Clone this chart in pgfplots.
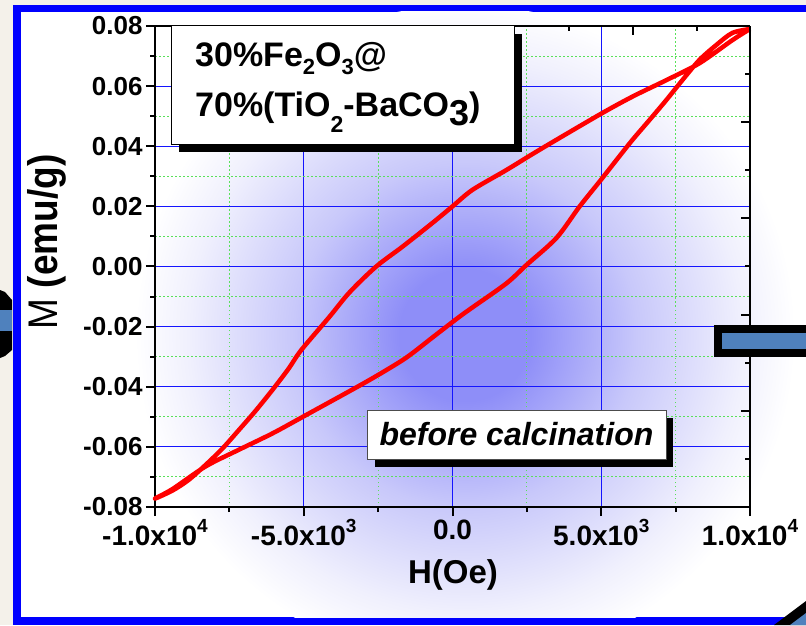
\documentclass[border=0pt]{standalone}
\usepackage{pgfplots}
\pgfplotsset{compat=1.18}
\usepackage{fontspec}
\setmainfont{Liberation Sans}
\definecolor{beige}{RGB}{244,241,234}
\definecolor{bgc}{RGB}{142,142,248}
\definecolor{bgm}{RGB}{200,200,250}
\definecolor{bgl}{RGB}{240,240,253}
\definecolor{gridblue}{RGB}{20,20,255}
\definecolor{gridgreen}{RGB}{90,225,90}
\definecolor{arrowblue}{RGB}{79,129,189}
\pgfdeclareradialshading{bgshade}{\pgfpoint{0bp}{0bp}}{color(0bp)=(bgc); color(5bp)=(bgc); color(13bp)=(bgm); color(21bp)=(bgl); color(25bp)=(white); color(50bp)=(white)}
\newcommand{\fs}[1]{\fontsize{#1}{#1}\selectfont}
\newcommand{\sups}[1]{\raisebox{13pt}{\fs{19}#1}}
\newcommand{\subs}[1]{\raisebox{-8pt}{\fs{22}#1}}
\begin{document}
\begin{tikzpicture}
\begin{scope}[x=1pt,y=1pt]
\useasboundingbox (0,0) rectangle (806,625);
\fill[beige] (0,0) rectangle (806,625);
\fill[blue] (13,0) rectangle (806,620);
\fill[white] (21,8) rectangle (806,613);
\begin{scope}
\clip (21,8) rectangle (806,613);
\shade[shading=bgshade] (465,290) circle (330);
\end{scope}
\end{scope}

\begin{axis}[
  at={(155pt,118pt)}, anchor=south west,
  scale only axis, width=595pt, height=481pt,
  xmin=-10000, xmax=10000, ymin=-0.08, ymax=0.08,
  scaled ticks=false,
  axis x line*=bottom, axis y line*=left,
  axis line style={line width=2pt},
  xtick={-10000,-5000,0,5000,10000},
  xticklabels={{-1.0x10\sups{4}},{-5.0x10\sups{3}},{0.0},{5.0x10\sups{3}},{1.0x10\sups{4}}},
  minor xtick={-7500,-2500,2500,7500},
  ytick={-0.08,-0.06,-0.04,-0.02,0,0.02,0.04,0.06,0.08},
  yticklabels={-0.08,-0.06,-0.04,-0.02,0.00,0.02,0.04,0.06,0.08},
  minor ytick={-0.07,-0.05,-0.03,-0.01,0.01,0.03,0.05,0.07},
  tick align=outside,
  major tick length=9pt, minor tick length=5pt,
  tick style={black, line width=2pt},
  grid=both,
  major grid style={draw=gridblue, line width=1.1pt},
  minor grid style={draw=gridgreen, line width=1pt, dash pattern=on 1.5pt off 2.5pt},
  xticklabel style={font=\fs{28}\bfseries},
  yticklabel style={font=\fs{26}\bfseries},
  clip=false,
]
\addplot[red, line width=4.5pt, line join=round, smooth, tension=0.5] coordinates {
(10000,0.0790) (9408,0.0753) (8299,0.0676) (7190,0.0620) (6048,0.0565)
(4939,0.0505) (2923,0.0388) (1814,0.0321) (672,0.0255) (0,0.0200)
(-672,0.0145) (-1680,0.0066) (-2564,0.0) (-3461,-0.0086) (-4133,-0.0167)
(-5084,-0.0278) (-5510,-0.0340) (-6048,-0.0410) (-6619,-0.0480) (-7190,-0.0545)
(-7728,-0.0605) (-8299,-0.0660) (-8870,-0.0710) (-9408,-0.0745) (-10000,-0.0772)
(-9408,-0.0740) (-8299,-0.0665) (-7190,-0.0610) (-6048,-0.0555) (-4939,-0.0495)
(-2923,-0.0385) (-1814,-0.0320) (-1344,-0.0288) (-672,-0.0236) (-437,-0.0218)
(235,-0.0167) (672,-0.0136) (1814,-0.0056) (2486,0.0005) (3494,0.0095)
(4267,0.0199) (4939,0.0282) (5510,0.0354) (6048,0.0421) (6619,0.0487)
(7190,0.0554) (7728,0.0620) (8299,0.0687) (8870,0.0737) (9408,0.0777) (10000,0.0790)
};
\end{axis}

\begin{axis}[
  at={(155pt,118pt)}, anchor=south west,
  scale only axis, width=595pt, height=481pt,
  xmin=-10000, xmax=10000, ymin=-0.08, ymax=0.08,
  scaled ticks=false,
  axis x line*=top, axis y line*=right,
  axis line style={line width=2pt},
  tick align=inside,
  xtick={6080}, minor xtick={3930,8230},
  ytick={-0.048,-0.016,0.016,0.048},
  minor ytick={-0.064,-0.032,0,0.032,0.064},
  xticklabels={}, yticklabels={},
  xticklabel style={text opacity=0}, yticklabel style={text opacity=0},
  major tick length=9pt, minor tick length=5pt,
  tick style={black, line width=2pt},
]
\addplot[draw=none] coordinates {(0,0)};
\end{axis}

\begin{scope}[x=1pt,y=1pt]
% y label
\node[rotate=90, font=\fs{37}] at (47,383) {\scalebox{1}[1.12]{M \textbf{(emu/g)}}};
% x label
\node[font=\fs{33}\bfseries, anchor=base] at (453,42) {H(Oe)};

% sample label box
\fill[black] (179,473) rectangle (522,591);
\filldraw[fill=white, draw=black, line width=1pt] (171,480) rectangle (514,599);
\node[anchor=base west, font=\fs{34}\bfseries, inner sep=0] at (195,558) {30\%Fe\subs{2}O\subs{3}@};
\node[anchor=base west, font=\fs{34}\bfseries, inner sep=0] at (195,508) {70\%(TiO\raisebox{-16pt}{\fs{23}2}-BaCO\raisebox{-9pt}{\fs{36}3})};

% before calcination box
\fill[black] (375,158) rectangle (673,207);
\filldraw[fill=white, draw=black!70, line width=1pt] (367,166) rectangle (666,215);
\node[font=\fs{32}\bfseries\itshape, anchor=base] at (516.5,180) {before calcination};

% decorative arrows
\fill[black] (714,268) rectangle (806,300);
\fill[arrowblue] (722,276) rectangle (806,292);
\fill[black] (0,335) -- (5,333) -- (12,325) -- (12,275) -- (5,269) -- (0,267) -- cycle;
\fill[arrowblue] (0,294) rectangle (12,315);
\fill[black] (774,0) -- (806,24) -- (806,0) -- cycle;
\fill[arrowblue] (790,0) -- (806,12) -- (806,0) -- cycle;
\end{scope}
\end{tikzpicture}
\end{document}
